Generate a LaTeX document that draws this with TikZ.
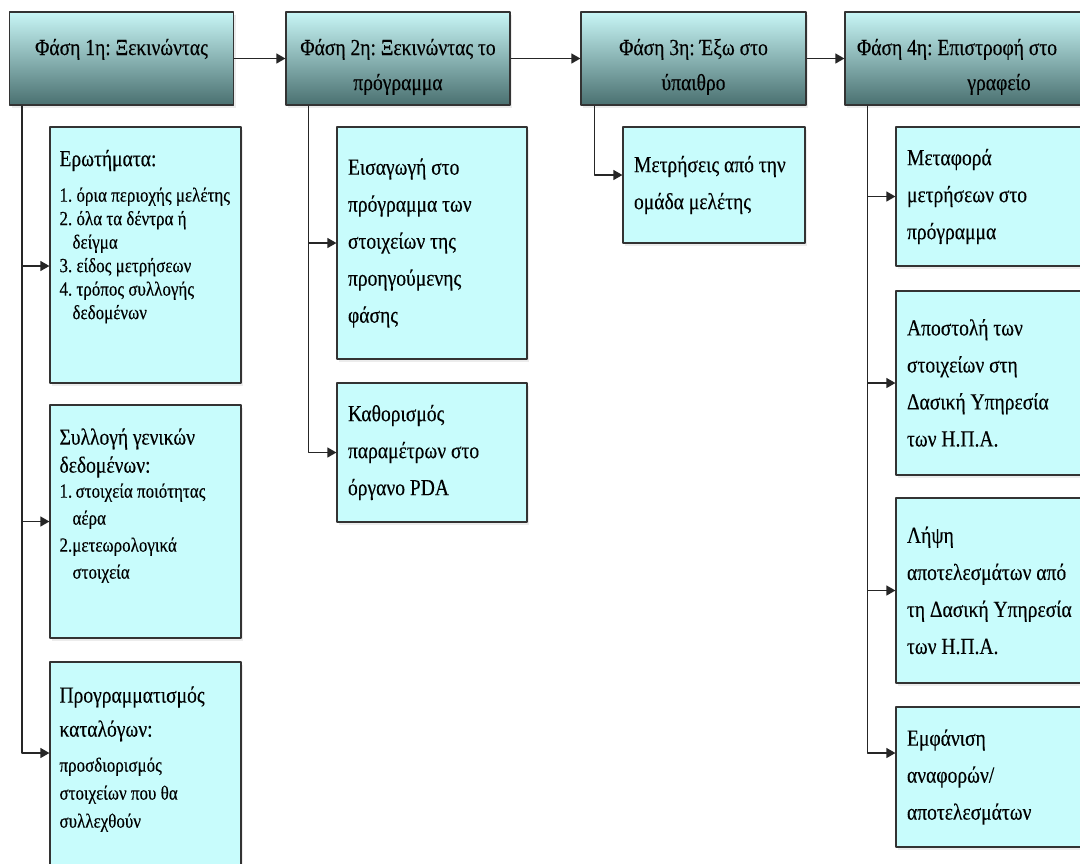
\documentclass[tikz,border=0pt]{standalone}
\usepackage{fontspec}
\setmainfont{Liberation Serif}[FakeStretch=0.85, FakeBold=0.3]
\usetikzlibrary{arrows.meta,shadows}
\definecolor{boxfill}{RGB}{200,252,252}
\definecolor{headtop}{RGB}{200,246,246}
\definecolor{headbot}{RGB}{74,112,112}
\setlength{\parindent}{0pt}
\AtBeginDocument{\frenchspacing}
\newcommand{\headtxt}[1]{\fontsize{23}{#1}\selectfont}
\newcommand{\listtxt}[1]{\fontsize{20}{#1}\selectfont}
\newcommand{\contline}{\hspace*{13pt}}

\begin{document}
\begin{tikzpicture}[
        x = 1pt, y = -1pt,
        line join=round,
        phase/.style = {draw=black!80, line width=1.2pt, top color=headtop, bottom color=headbot,
            minimum width=224pt, minimum height=93pt, text width=210pt, align=flush center, inner sep=0pt,
            font=\fontsize{23}{35}\selectfont, drop shadow={opacity=0.15, shadow xshift=2pt, shadow yshift=-3pt}},
        item/.style = {draw=black!80, line width=1.2pt, fill=boxfill, align=flush left, inner ysep=0pt,
            font=\fontsize{23}{37}\selectfont, drop shadow={opacity=0.15, shadow xshift=2pt, shadow yshift=-3pt}},
        col1/.style = {item, minimum width=191pt, text width=172pt, inner xsep=9.5pt},
        col2/.style = {item, minimum width=190pt, text width=168pt, inner xsep=11pt},
        col3/.style = {item, minimum width=182pt, text width=160pt, inner xsep=11pt},
        col4/.style = {item, minimum width=204pt, text width=182pt, inner xsep=11pt},
        link/.style = {line width=1.3pt, black!85, -{Triangle[length=9pt, width=10pt]}}
    ]
        \fill[white] (0,0) rectangle (1080,863);
        \useasboundingbox (0,0) rectangle (1080,863);
        \clip (0,0) rectangle (1080,863);

        \node[phase] (h1) at (121.5,58.5) {\rule{0pt}{28pt}Φάση 1η: Ξεκινώντας\\\mbox{}};
        \node[phase] (h2) at (398,58.5) {\rule{0pt}{33pt}Φάση 2η: Ξεκινώντας το\\πρόγραμμα};
        \node[phase, minimum width=225pt] (h3) at (693.5,58.5) {\rule{0pt}{33pt}Φάση 3η: Έξω στο\\ύπαιθρο};
        \node[phase, minimum width=240pt, text width=226pt] (h4) at (965,58.5) {\hspace*{-16pt}\rule{0pt}{33pt}Φάση 4η: Επιστροφή στο\\\hspace*{68pt}γραφείο};

        \node[col1, minimum height=256pt] (q1) at (145.5,255) {\headtxt{28}Ερωτήματα:\par\vspace{12pt}\listtxt{23.5}1. όρια περιοχής μελέτης\par 2. όλα τα δέντρα ή\par\contline δείγμα\par 3. είδος μετρήσεων\par 4. τρόπος συλλογής\par\contline δεδομένων\rule[-41pt]{0pt}{41pt}\par};
        \node[col1, minimum height=233pt] (q2) at (145.5,521.5) {\headtxt{28}Συλλογή γενικών\\δεδομένων:\par\vspace{-2pt}\listtxt{27}1.\,στοιχεία ποιότητας\par\contline αέρα\par 2.μετεωρολογικά\par\contline στοιχεία\rule[-36pt]{0pt}{36pt}\par};
        \node[col1, minimum height=230pt] (q3) at (145.5,777) {\headtxt{34}Προγραμματισμός\\καταλόγων:\par\vspace{7pt}\listtxt{28}προσδιορισμός\par στοιχείων που θα\par συλλεχθούν\rule[-40pt]{0pt}{40pt}\par};

        \node[col2, minimum height=232pt] (r1) at (432,243) {Εισαγωγή στο\\πρόγραμμα των\\στοιχείων της\\προηγούμενης\\φάσης};
        \node[col2, minimum height=139pt] (r2) at (432,452.5) {Καθορισμός\\παραμέτρων στο\\όργανο PDA};

        \node[col3, minimum height=116pt] (s1) at (714,185) {Μετρήσεις από την\\ομάδα μελέτης};

        \node[col4, minimum height=139pt] (u1) at (998,196.5) {Μεταφορά\\μετρήσεων στο\\πρόγραμμα};
        \node[col4, minimum height=184pt] (u2) at (998,383) {Αποστολή των\\στοιχείων στη\\Δασική Υπηρεσία\\των Η.Π.Α.};
        \node[col4, minimum height=185pt] (u3) at (998,590.5) {Λήψη\\αποτελεσμάτων από\\τη Δασική Υπηρεσία\\των Η.Π.Α.};
        \node[col4, minimum height=140pt] (u4) at (998,777) {Εμφάνιση\\αναφορών/\\αποτελεσμάτων};

        \draw[link] (h1.east) -- (h2.west);
        \draw[link] (h2.east) -- (h3.west);
        \draw[link] (h3.east) -- (h4.west);

        \draw[link] ([xshift=13pt]h1.south west) |- ([yshift=-11pt]q1.west);
        \draw[link] ([xshift=13pt]h1.south west) |- (q2.west);
        \draw[link] ([xshift=13pt]h1.south west) |- ([yshift=24pt]q3.west);

        \draw[link] ([xshift=23pt]h2.south west) |- (r1.west);
        \draw[link] ([xshift=23pt]h2.south west) |- (r2.west);

        \draw[link] ([xshift=14pt]h3.south west) |- ([yshift=10pt]s1.west);

        \draw[link] ([xshift=23pt]h4.south west) |- (u1.west);
        \draw[link] ([xshift=23pt]h4.south west) |- (u2.west);
        \draw[link] ([xshift=23pt]h4.south west) |- (u3.west);
        \draw[link] ([xshift=23pt]h4.south west) |- ([yshift=24pt]u4.west);

    \end{tikzpicture}
\end{document}
